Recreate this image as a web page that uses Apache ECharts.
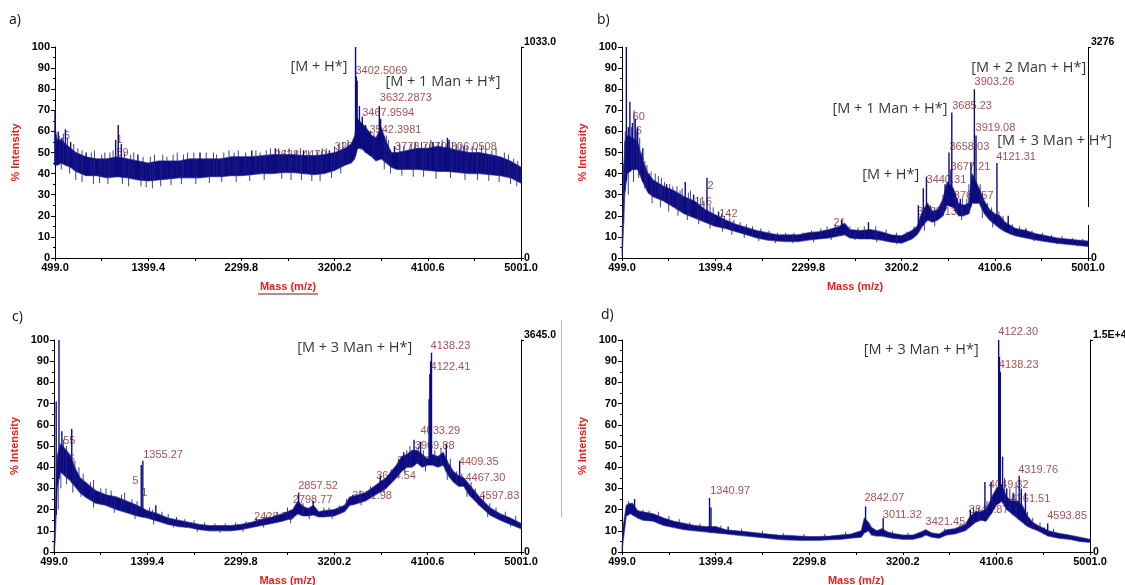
<!DOCTYPE html>
<html>
<head>
<meta charset="utf-8">
<script src="https://cdn.jsdelivr.net/npm/echarts@6/dist/echarts.min.js"></script>
<style>
  html, body { margin: 0; padding: 0; background: #fff; }
  #chart { width: 1125px; height: 585px; }
</style>
</head>
<body>
<div id="chart"></div>
<script>
// ---- axis ticks (m/z) ----
const massTicks = [499.0, 949.2, 1399.4, 1849.6, 2299.8, 2750.0, 3200.2, 3650.4, 4100.6, 4550.8, 5001.0];
const massTickLabels = [499.0, 1399.4, 2299.8, 3200.2, 4100.6, 5001.0];
const panelLetters = ['a)', 'b)', 'c)', 'd)'];
const fullScaleLabels = ['1033.0', '3276', '3645.0', '1.5E+4'];

// ---- spectrum a: noise band (m/z, lower / upper % intensity) ----
const massA = [499, 520, 560, 600, 650, 700, 800, 900, 1000, 1100, 1200, 1300, 1400, 1500, 1600, 1700, 1800, 1900, 2000, 2100, 2200, 2300, 2400, 2500, 2600, 2700, 2800, 2900, 3000, 3100, 3200, 3300, 3360, 3395, 3420, 3460, 3500, 3560, 3600, 3650, 3700, 3750, 3800, 3900, 4000, 4100, 4200, 4300, 4400, 4500, 4600, 4700, 4800, 4900, 5001];
const lowA  = [44, 44, 45, 44, 43, 41, 39, 39, 38, 38.5, 38, 37, 36.5, 37, 37.5, 38, 38, 38, 38.5, 38.5, 39, 39, 39.5, 40, 40, 40.5, 40.5, 40, 39.5, 40, 41.5, 44, 45, 47, 52, 52, 50, 48, 46, 47, 45, 43, 42, 42, 42, 41.5, 41, 41, 40.5, 40, 40, 39.5, 39, 38, 35.5];
const highA = [62, 56, 56, 54, 52, 50, 48, 47, 47, 48, 47, 46, 45, 46, 46, 46, 47, 47, 47, 47, 48, 48, 48, 48.5, 49, 49, 49, 48.5, 48.5, 49, 50, 52, 54, 58, 66, 64, 62, 58, 57, 62, 55, 50, 50, 51, 52, 52, 53, 52, 51, 50, 50, 49, 48, 46, 43];
// peaks: [m/z, % intensity]
const peaksA = [[499, 70], [530, 60], [565, 57], [600, 61], [650, 55], [800, 50], [1085, 56], [1110, 63], [1140, 54], [1300, 49], [1900, 50], [2400, 51], [2628, 52], [2900, 51], [3150, 51], [3402.5069, 100], [3410, 86], [3418, 84], [3440, 72], [3467.9594, 67], [3500, 63], [3542.3981, 60], [3632.2873, 72], [3645, 66], [3778.7070, 53], [4150, 55], [4290, 57], [4306.0508, 56], [4450, 53]];
// noise spikes above the band: [m/z, % intensity]
const hairsA = [[540, 58], [580, 59], [620, 57], [680, 54], [720, 52], [760, 51], [850, 50], [880, 51], [950, 49], [980, 50], [1030, 50], [1060, 51], [1170, 50], [1230, 49], [1260, 50], [1350, 48], [1420, 48], [1460, 49], [1540, 49], [1580, 48], [1640, 49], [1680, 50], [1740, 49], [1780, 50], [1840, 50], [1960, 50], [2030, 50], [2060, 49], [2130, 50], [2180, 51], [2230, 50], [2270, 51], [2340, 50], [2440, 51], [2480, 50], [2540, 51], [2580, 52], [2660, 52], [2720, 51], [2760, 52], [2830, 51], [2870, 52], [2950, 51], [3030, 51], [3080, 52], [3120, 52], [3200, 53], [3240, 54], [3280, 55], [3330, 56], [3580, 59], [3700, 58], [3720, 56], [3830, 54], [3870, 53], [3940, 54], [3980, 55], [4040, 55], [4080, 54], [4130, 56], [4200, 55], [4240, 56], [4340, 55], [4380, 54], [4420, 54], [4480, 53], [4530, 53], [4570, 52], [4620, 53], [4660, 52], [4720, 51], [4760, 52], [4840, 50], [4880, 49], [4930, 47], [4970, 46]];
// noise dips below the band: [m/z, % intensity]
const dipsA = [[560, 42], [640, 40], [700, 37], [760, 36], [870, 35], [930, 35.5], [1010, 35], [1150, 35], [1210, 34], [1330, 34], [1380, 33.5], [1440, 33], [1520, 34], [1620, 34.5], [1720, 35], [1860, 35], [1990, 35.5], [2110, 36], [2250, 36], [2380, 36.5], [2520, 37], [2690, 37.5], [2780, 37], [2880, 37], [2980, 36.5], [3060, 36.5], [3170, 38], [3260, 40], [3680, 42], [3740, 40], [3850, 39], [3960, 38.5], [4060, 38.5], [4180, 37.5], [4320, 38], [4460, 37], [4580, 37], [4690, 36.5], [4790, 36], [4900, 35], [4960, 34]];
// peak annotations: [text, m/z, % intensity]
const notesA = [['3402.5069', 3397, 88.6], ['3632.2873', 3632, 75.7], ['3467.9594', 3462, 68.9], ['3542.3981', 3532, 60.7], ['3204.1003', 3197, 52.5], ['3778.7070', 3777, 52.8], ['4306.0508', 4260, 52.8], ['4117.5446', 4122, 44.9], ['2628.4470', 2615, 48.8], ['1801.8030', 1813, 44.5], ['5', 582, 58], ['1', 1088, 56], ['59', 1088, 49.8]];
const tagsA = [['[M + H*]', 2769, 90.5], ['[M + 1 Man + H*]', 3687, 83.4]];

// ---- spectrum b ----
const massB = [499, 510, 525, 550, 600, 650, 700, 750, 800, 900, 1000, 1100, 1200, 1300, 1400, 1500, 1600, 1700, 1800, 1900, 2000, 2100, 2200, 2300, 2400, 2500, 2600, 2650, 2700, 2800, 2900, 3000, 3100, 3200, 3300, 3350, 3400, 3450, 3500, 3550, 3600, 3640, 3700, 3750, 3800, 3850, 3880, 3950, 4000, 4050, 4100, 4150, 4200, 4300, 4400, 4500, 4600, 4700, 4800, 4900, 5001];
const lowB  = [1, 10, 30, 40, 42, 42, 36, 31, 29, 27, 24, 21, 19, 17, 15, 14, 12.5, 11, 9.5, 8.5, 8, 7.8, 7.8, 8.5, 9, 9.5, 10.5, 11, 9.5, 9, 9, 8.5, 7.5, 7, 9, 11, 15, 18, 17, 18, 20, 25, 24, 20, 20, 21, 26, 26, 21, 18, 16, 14, 12.5, 10.5, 9.5, 8.5, 7.7, 7, 6.5, 6, 5.5];
const highB = [5, 30, 55, 58, 57, 55, 46, 40, 37, 34, 32, 29, 27, 23, 20.5, 18, 16, 14.5, 13, 12, 11, 11, 11, 12, 12.5, 13.5, 15, 16.5, 13.5, 13, 13.5, 12.5, 11, 10.5, 13, 15, 22, 26, 22, 23, 28, 36, 33, 26, 25, 26, 40, 33, 27, 23, 21, 20, 17, 14, 13, 11.5, 10.5, 9.5, 9, 8.5, 8];
const peaksB = [[541, 100], [560, 62], [575, 74], [600, 64], [627, 66], [650, 62], [700, 52], [760, 40], [930, 35], [1110, 36], [1191, 30], [1320, 38], [1432, 22], [2620, 18], [2880, 17], [3362.13, 25], [3410, 33], [3440.31, 38.5], [3620, 35], [3658.03, 50], [3677.21, 42], [3685.23, 69], [3767.57, 28], [3870, 45], [3903.26, 80], [3919.08, 58], [4121.31, 45], [4230, 20], [4400, 14]];
const hairsB = [[515, 45], [530, 60], [590, 62], [615, 70], [640, 60], [670, 57], [690, 50], [720, 46], [740, 44], [780, 41], [820, 40], [850, 39], [880, 38], [910, 36], [960, 35], [990, 34], [1030, 34], [1060, 32], [1080, 33], [1140, 31], [1160, 32], [1230, 29], [1260, 28], [1290, 27], [1350, 25], [1380, 24], [1460, 21], [1490, 20], [1540, 19], [1580, 18], [1640, 17], [1700, 16], [1760, 15], [1840, 14], [1920, 13], [2000, 12], [2080, 12], [2160, 12], [2250, 12], [2330, 13], [2420, 14], [2480, 15], [2560, 16], [2700, 15], [2780, 14.5], [2840, 15], [2950, 15], [3050, 13.5], [3150, 12], [3250, 12.5], [3320, 15], [3380, 20], [3480, 25], [3520, 24], [3580, 25], [3600, 30], [3720, 31], [3740, 28], [3790, 28], [3830, 28], [3850, 35], [3960, 35], [3980, 30], [4030, 26], [4070, 24], [4140, 22], [4180, 20], [4270, 16], [4340, 15], [4460, 13], [4560, 12], [4650, 11], [4750, 10.5], [4850, 9.5], [4950, 9]];
const dipsB = [[560, 30], [610, 36], [660, 38], [720, 33], [790, 26], [870, 24], [950, 22], [1040, 20], [1130, 18], [1240, 16], [1350, 14], [1470, 12.5], [1560, 11], [1680, 9.5], [1820, 8], [1980, 7], [2150, 7], [2350, 7.5], [2520, 8.5], [2750, 8.5], [2960, 7.5], [3150, 6.5], [3420, 13], [3520, 15], [3780, 18], [3980, 19], [4080, 14.5], [4250, 11], [4480, 8], [4700, 6.5], [4900, 5.5]];
const notesB = [['3903.26', 3900, 83.3], ['3685.23', 3684, 72.2], ['3919.08', 3910, 61.8], ['3658.03', 3658, 52.8], ['4121.31', 4109, 47.7], ['3677.21', 3668, 43], ['3440.31', 3436, 37], ['3767.57', 3700, 29.4], ['3362.13', 3346, 22], ['21', 2537, 16.7], ['116', 1192, 26.4], ['2', 1320, 34.1], ['142', 1433, 20.7], ['60', 596, 67], ['6', 627, 60.3], ['8', 651, 45.6]];
const tagsB = [['[M + 2 Man + H*]', 3868, 89.9], ['[M + 1 Man + H*]', 2528, 70.9], ['[M + 3 Man + H*]', 4119, 55.6], ['[M + H*]', 2815, 39.3]];

// ---- spectrum c ----
const massC = [499, 510, 530, 560, 600, 650, 700, 750, 800, 900, 1000, 1100, 1200, 1300, 1400, 1500, 1600, 1700, 1800, 1900, 2000, 2100, 2200, 2300, 2400, 2500, 2600, 2700, 2800, 2850, 2900, 2950, 3000, 3050, 3100, 3200, 3300, 3350, 3400, 3500, 3600, 3700, 3800, 3850, 3900, 3950, 4000, 4050, 4100, 4150, 4200, 4250, 4300, 4350, 4400, 4450, 4500, 4600, 4700, 4800, 4900, 5001];
const lowC  = [0, 5, 30, 38, 36, 34, 31, 28, 26, 23, 22, 20, 18.5, 17, 16, 14.5, 13, 12, 11.5, 10.5, 10, 10, 10, 10.5, 11.5, 12.5, 13.5, 14.5, 16, 18, 17, 17, 17.5, 16.5, 16.5, 17, 19, 22, 22.5, 24, 27, 30, 35, 38, 40, 40, 42, 40, 41, 41, 40, 41, 36, 33, 31, 31, 27, 22, 17.5, 15, 13, 11];
const highC = [3, 15, 45, 51, 49, 46, 40, 35, 33, 29, 27, 26, 24, 22, 19.5, 18, 16, 15, 14, 13, 12.5, 12.5, 12.5, 13, 14, 15.5, 16.5, 18, 20, 24, 21.5, 20.5, 22, 19, 19.5, 20, 22, 26, 26.5, 28, 31.5, 35, 41, 45, 46, 48, 48, 46, 44, 46, 45, 47, 42, 38, 36, 35, 32, 26, 21, 18, 16, 13.5];
const peaksC = [[520, 71], [547, 100], [575, 57], [670, 58], [1340, 41], [1355.27, 43], [1480, 22], [2857.52, 28], [2998, 24], [3381.98, 27], [3644.54, 36], [3870.67, 47], [3969.88, 53], [4033.29, 52], [4115, 72], [4122.41, 84], [4130, 90], [4138.23, 94], [4280, 51], [4409.35, 43], [4467.30, 33], [4597.83, 25]];
const hairsC = [[590, 53], [620, 50], [700, 43], [740, 40], [780, 37], [850, 33], [880, 34], [950, 30], [1000, 30], [1050, 29], [1150, 27], [1180, 28], [1250, 25], [1300, 24], [1420, 21], [1450, 20], [1540, 19], [1600, 18], [1680, 16.5], [1760, 15.5], [1850, 15], [1950, 14], [2050, 13.5], [2150, 13.5], [2250, 14], [2350, 14.5], [2450, 16], [2550, 17.5], [2650, 19], [2750, 21], [2900, 23], [3100, 21], [3150, 21], [3250, 22], [3320, 25], [3450, 29], [3550, 31], [3650, 34], [3750, 39], [3820, 44], [3900, 48], [3930, 50], [4010, 50], [4060, 48], [4170, 48], [4230, 49], [4320, 44], [4380, 38], [4430, 37], [4520, 33], [4560, 30], [4640, 27], [4700, 23], [4760, 21], [4850, 19], [4950, 17]];
const dipsC = [[540, 20], [565, 30], [620, 32], [680, 28], [760, 26], [880, 21], [1080, 18.5], [1280, 15.5], [1460, 13], [1650, 11.5], [1880, 9.5], [2100, 9], [2320, 9.5], [2520, 11.5], [2780, 13.5], [2960, 15.5], [3180, 15.5], [3460, 22], [3680, 28], [3880, 37], [4080, 38], [4290, 34], [4480, 26], [4680, 16.5], [4900, 12]];
const notesC = [['4138.23', 4124, 97.3], ['4122.41', 4124, 87.1], ['4033.29', 4027, 57.2], ['3969.88', 3972, 49.9], ['3870.67', 3803, 43.1], ['4409.35', 4397, 42.5], ['4467.30', 4461, 34.9], ['3644.54', 3600, 35.7], ['4597.83', 4596, 26.6], ['2857.52', 2848, 31.3], ['3381.98', 3369, 26.3], ['2798.77', 2796, 24.4], ['2428.78', 2423, 16.7], ['1355.27', 1354, 45.9], ['55', 583, 52.2], ['6', 637, 43.9], ['5', 1248, 33.3], ['1', 1335, 27.8]];
const tagsC = [['[M + 3 Man + H*]', 2839, 96.2]];

// ---- spectrum d ----
const massD = [499, 510, 540, 580, 600, 650, 700, 800, 900, 1000, 1100, 1200, 1300, 1400, 1500, 1600, 1700, 1800, 1900, 2000, 2100, 2200, 2300, 2400, 2500, 2600, 2700, 2800, 2830, 2870, 2900, 2950, 3000, 3050, 3100, 3200, 3300, 3380, 3420, 3480, 3550, 3620, 3700, 3800, 3850, 3900, 3950, 4000, 4050, 4100, 4150, 4200, 4250, 4300, 4350, 4400, 4450, 4500, 4600, 4700, 4800, 4900, 5001];
const lowD  = [0, 5, 17, 18, 17.5, 16, 15, 14.5, 12.5, 11.5, 10.5, 10, 9.5, 9, 8.5, 8, 7.5, 7, 6.5, 6, 5.7, 5.5, 5.5, 5.5, 5.8, 6, 6.5, 7, 9, 10, 8, 7.5, 7.5, 7, 6.5, 6, 6, 7, 8, 7, 6.5, 8, 8.5, 10, 12, 14, 15, 14.5, 18, 22, 24, 20, 18, 16, 14, 12, 11, 10, 7.5, 6.5, 6, 5, 4.5];
const highD = [2, 12, 22, 23, 23, 19.5, 19, 18, 16, 14.5, 13.5, 12.5, 12, 12, 10.5, 10, 9.5, 9, 8.5, 8, 7.8, 7.5, 7.3, 7.3, 7.5, 8, 8.5, 10, 16, 14, 11.5, 10, 11, 9.5, 8.8, 8, 8, 9.5, 10.5, 9, 8.5, 10.5, 11, 13, 17, 19, 19, 20, 25, 30, 32, 26, 24, 24, 22, 17, 14, 12.5, 10, 8.8, 8, 7, 6];
const peaksD = [[620, 25], [1340.97, 25.5], [1355, 21], [1520, 12], [2842.07, 21.5], [3011.32, 16], [3421.45, 10.5], [3849.87, 20], [3990, 33], [4049.32, 33], [4080, 28], [4122.30, 100], [4130, 92], [4138.23, 85], [4160, 45], [4200, 30], [4261.51, 28], [4319.76, 36], [4340, 30], [4380, 28], [4560, 11.5], [4593.85, 13.5]];
const hairsD = [[560, 24], [700, 20], [760, 19.5], [850, 19], [950, 17], [1050, 15.5], [1150, 14], [1250, 13.5], [1450, 12.5], [1650, 11], [1850, 10], [2050, 9], [2250, 8.5], [2450, 8.5], [2650, 9.5], [3100, 10], [3250, 9], [3600, 11], [3750, 13], [3880, 21], [3930, 21], [4010, 24], [4060, 27], [4180, 35], [4230, 30], [4290, 33], [4400, 19], [4450, 16], [4520, 14], [4650, 11]];
const dipsD = [];
const notesD = [['4122.30', 4114, 103.6], ['4138.23', 4119, 88.4], ['4319.76', 4306, 38.8], ['4049.32', 4023, 31.7], ['4261.51', 4232, 25.1], ['2842.07', 2827, 25.5], ['3011.32', 3003, 17.6], ['3421.45', 3414, 14], ['3849.87', 3830, 19.7], ['4593.85', 4585, 16.8], ['1340.97', 1343, 28.6]];
const tagsD = [['[M + 3 Man + H*]', 2820, 95.4]];

const spectra = [
  { mass: massA, low: lowA, high: highA, peaks: peaksA, hairs: hairsA, dips: dipsA, notes: notesA, tags: tagsA },
  { mass: massB, low: lowB, high: highB, peaks: peaksB, hairs: hairsB, dips: dipsB, notes: notesB, tags: tagsB },
  { mass: massC, low: lowC, high: highC, peaks: peaksC, hairs: hairsC, dips: dipsC, notes: notesC, tags: tagsC },
  { mass: massD, low: lowD, high: highD, peaks: peaksD, hairs: hairsD, dips: dipsD, notes: notesD, tags: tagsD }
];

// ---- layout & styles ----
const layout = [
  { left: 55,  top: 47,  width: 466, height: 211 },
  { left: 622, top: 47,  width: 466, height: 211 },
  { left: 54,  top: 340, width: 467, height: 212 },
  { left: 622, top: 340, width: 468, height: 212 }
];
const letterPos = [[9, 13], [597, 13], [12, 310], [601, 308]];
const AXIS_FONT = "'Liberation Sans Narrow', 'Liberation Sans', Arial, sans-serif";
const NOTE_FONT = "'Liberation Sans', Arial, sans-serif";
const TAG_FONT = "'Open Sans', 'Noto Sans', sans-serif";
const TRACE = '#0c0c80';
const TRACE_EDGE = 'rgba(40, 40, 140, 0.6)';
const HAIR = 'rgba(30, 30, 135, 0.85)';
const NOTE_COLOR = '#8c2626';
const TITLE_RED = '#e3211d';

// band edge (lower or upper) at a given m/z, used as the foot of each stick
function bandEdge(s, edge, m) {
  const ms = s.mass;
  if (m <= ms[0]) return edge[0];
  for (let k = 1; k < ms.length; k++) {
    if (m <= ms[k]) {
      const t = (m - ms[k - 1]) / (ms[k] - ms[k - 1]);
      return edge[k - 1] + t * (edge[k] - edge[k - 1]);
    }
  }
  return edge[ms.length - 1];
}

function stickSeries(s, i, list, edge, z, color, width) {
  return {
    type: 'custom', xAxisIndex: i, yAxisIndex: i * 2, z: z, silent: true,
    data: list,
    renderItem: (params, api) => {
      const m = api.value(0), h = api.value(1);
      const a = api.coord([m, bandEdge(s, edge, m)]);
      const b = api.coord([m, h]);
      return { type: 'line', shape: { x1: a[0], y1: a[1], x2: b[0], y2: b[1] }, style: { stroke: color, lineWidth: width } };
    }
  };
}

const option = { animation: false, backgroundColor: '#fff', grid: [], xAxis: [], yAxis: [], series: [], graphic: [] };

spectra.forEach((s, i) => {
  option.grid.push(Object.assign({ containLabel: false, outerBoundsMode: 'none' }, layout[i]));

  option.xAxis.push({
    gridIndex: i, type: 'value', min: 499, max: 5001,
    axisLine: { show: true, onZero: false, lineStyle: { color: '#000', width: 1 } },
    axisTick: { show: true, customValues: massTicks, length: 3, lineStyle: { color: '#000' } },
    axisLabel: {
      customValues: massTickLabels, formatter: v => Number(v).toFixed(1),
      color: '#000', fontWeight: 'bold', fontSize: 11, fontFamily: AXIS_FONT, margin: 4
    },
    splitLine: { show: false },
    name: 'Mass (m/z)', nameLocation: 'middle', nameGap: 23,
    nameTextStyle: { color: TITLE_RED, fontWeight: 'bold', fontSize: 11, fontFamily: NOTE_FONT }
  });

  option.yAxis.push({
    gridIndex: i, type: 'value', min: 0, max: 100, interval: 10,
    axisLine: { show: true, lineStyle: { color: '#000', width: 1 } },
    axisTick: { show: true, length: 4, lineStyle: { color: '#000' } },
    minorTick: { show: true, splitNumber: 2, length: 2, lineStyle: { color: '#000' } },
    axisLabel: { color: '#000', fontWeight: 'bold', fontSize: 11, fontFamily: AXIS_FONT, margin: 5 },
    splitLine: { show: false },
    name: '% Intensity', nameLocation: 'middle', nameGap: 34,
    nameTextStyle: { color: TITLE_RED, fontWeight: 'bold', fontSize: 11, fontFamily: NOTE_FONT }
  });

  const top = fullScaleLabels[i];
  option.yAxis.push({
    gridIndex: i, type: 'value', position: 'right', min: 0, max: 100, interval: 100,
    axisLine: { show: i !== 1, lineStyle: { color: '#000', width: 1 } },
    axisTick: { show: true, length: 3, lineStyle: { color: '#000' } },
    axisLabel: {
      color: '#000', fontWeight: 'bold', fontSize: 10.5, fontFamily: AXIS_FONT, margin: 3,
      formatter: v => (v >= 100 ? '{t|' + top + '}' : '0'),
      rich: { t: { color: '#000', fontWeight: 'bold', fontSize: 10.5, fontFamily: AXIS_FONT, padding: [0, 0, 10, 0] } }
    },
    splitLine: { show: false }
  });

  const yL = i * 2;

  // peak m/z annotations (drawn beneath the trace)
  option.series.push({
    type: 'scatter', xAxisIndex: i, yAxisIndex: yL, z: 1, clip: false, silent: true,
    symbolSize: 1, itemStyle: { color: 'rgba(0,0,0,0)' },
    data: s.notes.map(n => ({ name: n[0], value: [n[1], n[2]] })),
    label: { show: true, position: 'right', distance: 0, formatter: '{b}', color: NOTE_COLOR, fontSize: 11, fontFamily: NOTE_FONT }
  });

  // noise band of the spectrum
  option.series.push({
    type: 'custom', xAxisIndex: i, yAxisIndex: yL, z: 2, silent: true,
    data: [[s.mass[0], s.low[0]]],
    renderItem: (params, api) => {
      const pts = [];
      for (let k = 0; k < s.mass.length; k++) pts.push(api.coord([s.mass[k], s.high[k]]));
      for (let k = s.mass.length - 1; k >= 0; k--) pts.push(api.coord([s.mass[k], s.low[k]]));
      return { type: 'polygon', shape: { points: pts }, style: { fill: TRACE, stroke: TRACE_EDGE, lineWidth: 1.2, lineJoin: 'round' } };
    }
  });

  // noise spikes, dips and peaks
  option.series.push(stickSeries(s, i, s.hairs, s.low, 3, HAIR, 1));
  option.series.push(stickSeries(s, i, s.dips, s.high, 3, HAIR, 1));
  option.series.push(stickSeries(s, i, s.peaks, s.low, 3, TRACE, 1.4));

  // ion assignments
  option.series.push({
    type: 'scatter', xAxisIndex: i, yAxisIndex: yL, z: 4, clip: false, silent: true,
    symbolSize: 1, itemStyle: { color: 'rgba(0,0,0,0)' },
    data: s.tags.map(n => ({ name: n[0], value: [n[1], n[2]] })),
    label: { show: true, position: 'right', distance: 0, formatter: '{b}', color: '#000', fontSize: 14.5, fontFamily: TAG_FONT }
  });

  option.graphic.push({
    type: 'text', left: letterPos[i][0], top: letterPos[i][1],
    style: { text: panelLetters[i], fill: '#111', font: "14px 'Open Sans', sans-serif" }
  });
});

// underline under the first m/z title
option.graphic.push({ type: 'line', shape: { x1: 258, y1: 294, x2: 318, y2: 294 }, style: { stroke: '#7a1212', lineWidth: 1 } });
// broken full-scale line of panel b
option.graphic.push({ type: 'line', shape: { x1: 1088.5, y1: 47, x2: 1088.5, y2: 207 }, style: { stroke: '#000', lineWidth: 1 } });
option.graphic.push({ type: 'line', shape: { x1: 1088.5, y1: 225, x2: 1088.5, y2: 258 }, style: { stroke: '#000', lineWidth: 1 } });
// faint frame edge beside panel d
option.graphic.push({ type: 'line', shape: { x1: 561.5, y1: 320, x2: 561.5, y2: 517 }, style: { stroke: '#b5b5b5', lineWidth: 1 } });

const chart = echarts.init(document.getElementById('chart'), null, { renderer: 'canvas' });
chart.setOption(option);
</script>
</body>
</html>
